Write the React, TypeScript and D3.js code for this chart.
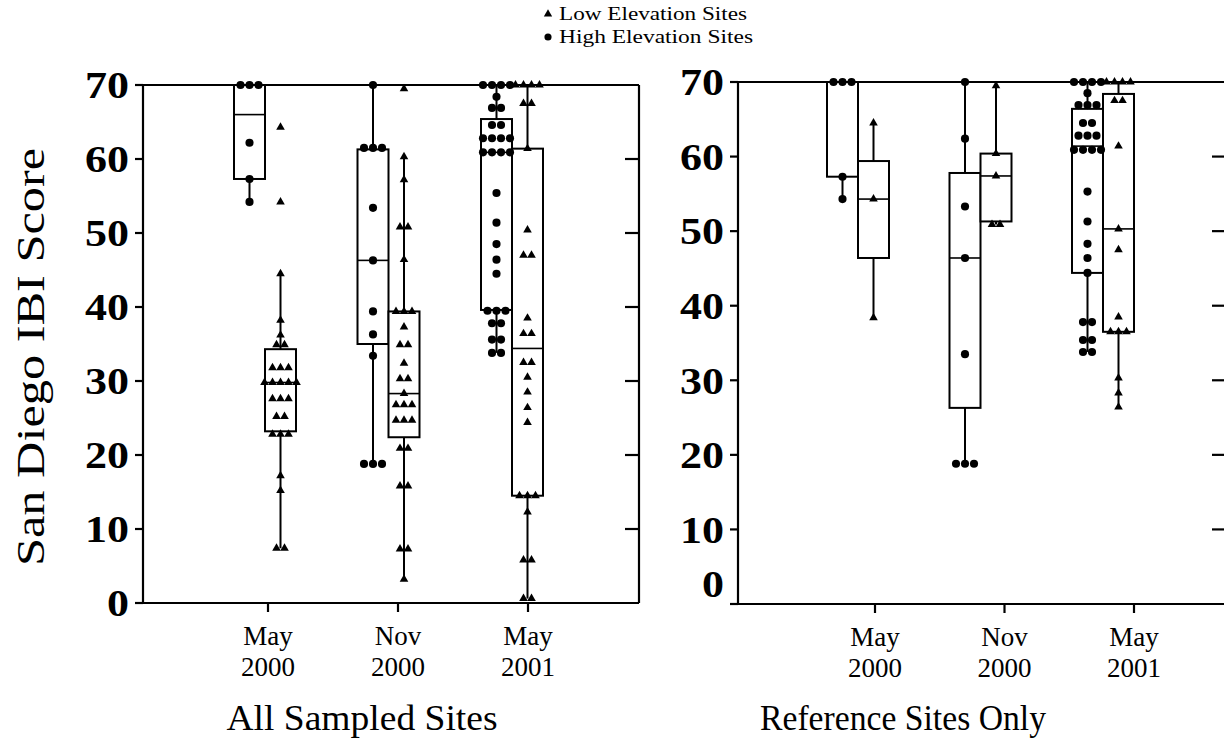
import React from "react";
import * as d3 from "d3";

// ---------- data ----------
const categories = ["May 2000", "Nov 2000", "May 2001"];
const categoryLines = [["May", "2000"], ["Nov", "2000"], ["May", "2001"]];
const yTicks = [0, 10, 20, 30, 40, 50, 60, 70];

// All Sampled Sites — individual site scores
const allHighPoints = [
  [70, 70, 70, 62.2, 57.3, 54.2],
  [70, 61.5, 61.5, 61.5, 53.4, 46.3, 39.4, 36.3, 33.4, 18.8, 18.8, 18.8],
  [70, 70, 70, 70, 68.4, 66.9, 66.9, 64.6, 64.6, 62.8, 62.8, 62.8, 62.8, 60.9, 60.9, 60.9, 60.9,
    55.4, 51.4, 48.5, 46.4, 44.5, 39.5, 39.5, 39.5, 37.8, 37.8, 35.6, 35.6, 33.8, 33.8],
];
const allLowPoints = [
  [64.3, 54.2, 44.5, 38.2, 36.2, 34.9, 34.9, 31.8, 31.8, 31.8, 29.8, 29.8, 29.8, 29.8, 29.8,
    27.6, 27.6, 27.6, 25.2, 25.2, 22.8, 22.8, 22.8, 17.2, 15.2, 7.4, 7.4],
  [69.5, 60.3, 57.2, 50.8, 50.8, 46.4, 39.4, 39.4, 39.4, 37.3, 34.9, 34.9, 32.4, 30.3, 30.3,
    28.3, 26.8, 26.8, 26.8, 24.7, 24.7, 24.7, 20.9, 20.9, 15.8, 15.8, 7.3, 7.3, 3.2],
  [70, 70, 70, 70, 67.5, 67.5, 61.4, 50.4, 47, 47, 38.5, 36.4, 36.4, 32.5, 32.5, 30.5, 28.5,
    26.4, 24.4, 14.5, 14.5, 14.5, 12.3, 5.8, 5.8, 0.6, 0.6],
];
// box stats: [whiskerLow, q1, median, q3, whiskerHigh]
const allHighBoxes = [
  [54.2, 57.3, 66, 70, 70],
  [18.8, 35.0, 46.3, 61.3, 70],
  [33.8, 39.6, 60.9, 65.4, 70],
];
const allLowBoxes = [
  [7.4, 23.2, 29.8, 34.3, 44.5],
  [3.2, 22.4, 28.3, 39.4, 60.3],
  [0.6, 14.5, 34.4, 61.4, 70],
];

// Reference Sites Only
const refHighPoints = [
  [70, 70, 70, 57.3, 54.3],
  [70, 62.4, 53.3, 46.4, 33.5, 18.8, 18.8, 18.8],
  [70, 70, 70, 70, 68.5, 66.9, 66.9, 66.9, 64.5, 64.5, 62.8, 62.8, 62.8, 60.9, 60.9, 60.9, 60.9,
    55.3, 51.3, 48.3, 46.4, 44.4, 37.8, 37.8, 35.4, 35.4, 33.8, 33.8],
];
const refLowPoints = [
  [64.5, 54.3, 38.4],
  [69.5, 60.4, 57.4, 50.9, 50.9],
  [70, 70, 70, 70, 67.5, 67.5, 61.4, 50.3, 47.5, 38.5, 36.5, 36.5, 36.5, 30.3, 28.3, 26.4],
];
const refHighBoxes = [
  [54.3, 57.3, 70, 70, 70],
  [18.8, 26.3, 46.4, 57.8, 70],
  [33.8, 44.4, 61.4, 66.4, 70],
];
const refLowBoxes = [
  [38.4, 46.4, 54.3, 59.4, 64.5],
  [50.9, 51.3, 57.4, 60.4, 69.5],
  [26.4, 36.5, 50.3, 68.4, 70],
];

const legendItems = [
  { label: "Low Elevation Sites", shape: "triangle", len: 188 },
  { label: "High Elevation Sites", shape: "circle", len: 194 },
];

// ---------- layout ----------
const W = 1224;
const H = 742;
const SERIF = "'Liberation Serif', 'Times New Roman', serif";
const BOX_W = 31;

type PanelCfg = {
  title: string;
  xLeft: number;
  xRight: number;
  yBottom: number;
  yTop: number;
  boxRange: [number, number];
  tickRange: [number, number];
  high: number[][];
  low: number[][];
  highBoxes: number[][];
  lowBoxes: number[][];
  titleX: number;
  titleLen: number;
  zeroDy: number;
};

const panels: PanelCfg[] = [
  {
    title: "All Sampled Sites",
    xLeft: 143, xRight: 639, yBottom: 603, yTop: 85,
    boxRange: [265, 512], tickRange: [268, 528],
    high: allHighPoints, low: allLowPoints, highBoxes: allHighBoxes, lowBoxes: allLowBoxes,
    titleX: 362, titleLen: 271, zeroDy: 0,
  },
  {
    title: "Reference Sites Only",
    xLeft: 738, xRight: 1226, yBottom: 604, yTop: 82,
    boxRange: [858, 1103], tickRange: [875, 1134],
    high: refHighPoints, low: refLowPoints, highBoxes: refHighBoxes, lowBoxes: refLowBoxes,
    titleX: 903, titleLen: 286, zeroDy: -20,
  },
];

const triPath = d3.symbol().type(d3.symbolTriangle).size(32)() as string;
const circPath = d3.symbol().type(d3.symbolCircle).size(52)() as string;

function spread(values: number[], spacing: number) {
  const counts = new Map<number, number>();
  values.forEach((v) => counts.set(v, (counts.get(v) || 0) + 1));
  const seen = new Map<number, number>();
  return values.map((v) => {
    const n = counts.get(v) as number;
    const i = seen.get(v) || 0;
    seen.set(v, i + 1);
    return { v, dx: (i - (n - 1) / 2) * spacing };
  });
}

function BoxGroup({ cx, stats, y }: { cx: number; stats: number[]; y: d3.ScaleLinear<number, number> }) {
  const [wl, q1, med, q3, wh] = stats;
  return (
    <g stroke="#000" strokeWidth={2} fill="none">
      <line x1={cx} x2={cx} y1={y(wl)} y2={y(q1)} />
      <line x1={cx} x2={cx} y1={y(q3)} y2={y(wh)} />
      <rect x={cx - BOX_W / 2} y={y(q3)} width={BOX_W} height={y(q1) - y(q3)} fill="#fff" />
      <line x1={cx - BOX_W / 2} x2={cx + BOX_W / 2} y1={y(med)} y2={y(med)} strokeWidth={1.6} />
    </g>
  );
}

function Panel({ p }: { p: PanelCfg }) {
  const y = d3.scaleLinear().domain([0, 70]).range([p.yBottom, p.yTop]);
  const xb = d3.scalePoint<string>().domain(categories).range(p.boxRange);
  const xt = d3.scalePoint<string>().domain(categories).range(p.tickRange);
  return (
    <g>
      {/* frame */}
      <g stroke="#000" strokeWidth={2.2} fill="none">
        <line x1={p.xLeft} x2={p.xLeft} y1={y(0)} y2={y(70)} />
        <line x1={p.xLeft} x2={p.xRight} y1={y(0)} y2={y(0)} />
        <line x1={p.xLeft} x2={p.xRight} y1={y(70)} y2={y(70)} />
        <line x1={p.xRight} x2={p.xRight} y1={y(0)} y2={y(70)} />
        {yTicks.map((t) => (
          <line key={"l" + t} x1={p.xLeft - 8} x2={p.xLeft} y1={y(t)} y2={y(t)} />
        ))}
        {yTicks.filter((t) => t > 0 && t < 70).map((t) => (
          <line key={"r" + t} x1={p.xRight - 14} x2={p.xRight} y1={y(t)} y2={y(t)} />
        ))}
        {categories.map((c) => (
          <line key={c} x1={xt(c)} x2={xt(c)} y1={y(0)} y2={y(0) + 9} />
        ))}
      </g>
      {/* y tick labels */}
      {yTicks.map((t) => (
        <text key={t} x={p.xLeft - 14} y={y(t) + (t === 0 ? p.zeroDy : 0)} dy="0.35em" textAnchor="end"
          fontFamily={SERIF} fontWeight="bold" fontSize={38}
          textLength={String(t).length * 22} lengthAdjust="spacingAndGlyphs">{t}</text>
      ))}
      {/* x labels */}
      {categories.map((c, i) => (
        <text key={c} x={xt(c)} y={y(0) + 42} textAnchor="middle" fontFamily={SERIF} fontSize={27}>
          <tspan x={xt(c)}>{categoryLines[i][0]}</tspan>
          <tspan x={xt(c)} dy={31}>{categoryLines[i][1]}</tspan>
        </text>
      ))}
      <text x={p.titleX} y={730} textAnchor="middle" fontFamily={SERIF} fontSize={36}
        textLength={p.titleLen} lengthAdjust="spacingAndGlyphs">{p.title}</text>
      {/* boxes */}
      {categories.map((c, i) => {
        const hx = (xb(c) as number) - BOX_W / 2;
        const lx = (xb(c) as number) + BOX_W / 2;
        return (
          <g key={c}>
            <BoxGroup cx={hx} stats={p.highBoxes[i]} y={y} />
            <BoxGroup cx={lx} stats={p.lowBoxes[i]} y={y} />
            {spread(p.high[i], 9).map((d, j) => (
              <path key={"h" + j} d={circPath} transform={`translate(${hx + d.dx},${y(d.v)})`} fill="#000" />
            ))}
            {spread(p.low[i], 8).map((d, j) => (
              <path key={"t" + j} d={triPath} transform={`translate(${lx + d.dx},${y(d.v)})`} fill="#000" />
            ))}
          </g>
        );
      })}
    </g>
  );
}

export default function App() {
  return (
    <svg width={W} height={H} style={{ position: "absolute", left: 0, top: 0, background: "#fff" }}>
      <rect width={W} height={H} fill="#fff" />
      {panels.map((p) => (
        <Panel key={p.title} p={p} />
      ))}
      {/* y axis title */}
      <text transform="translate(44,357) rotate(-90)" textAnchor="middle" fontFamily={SERIF} fontSize={40}
        textLength={418} lengthAdjust="spacingAndGlyphs">San Diego  IBI Score</text>
      {/* legend */}
      {legendItems.map((it, i) => (
        <g key={it.label} transform={`translate(548,${14 + i * 23})`}>
          <path d={it.shape === "triangle" ? d3.symbol().type(d3.symbolTriangle).size(30)() as string
            : d3.symbol().type(d3.symbolCircle).size(40)() as string} fill="#000" />
          <text x={11} dy="0.35em" fontFamily={SERIF} fontSize={18}
            textLength={it.len} lengthAdjust="spacingAndGlyphs">{it.label}</text>
        </g>
      ))}
    </svg>
  );
}
